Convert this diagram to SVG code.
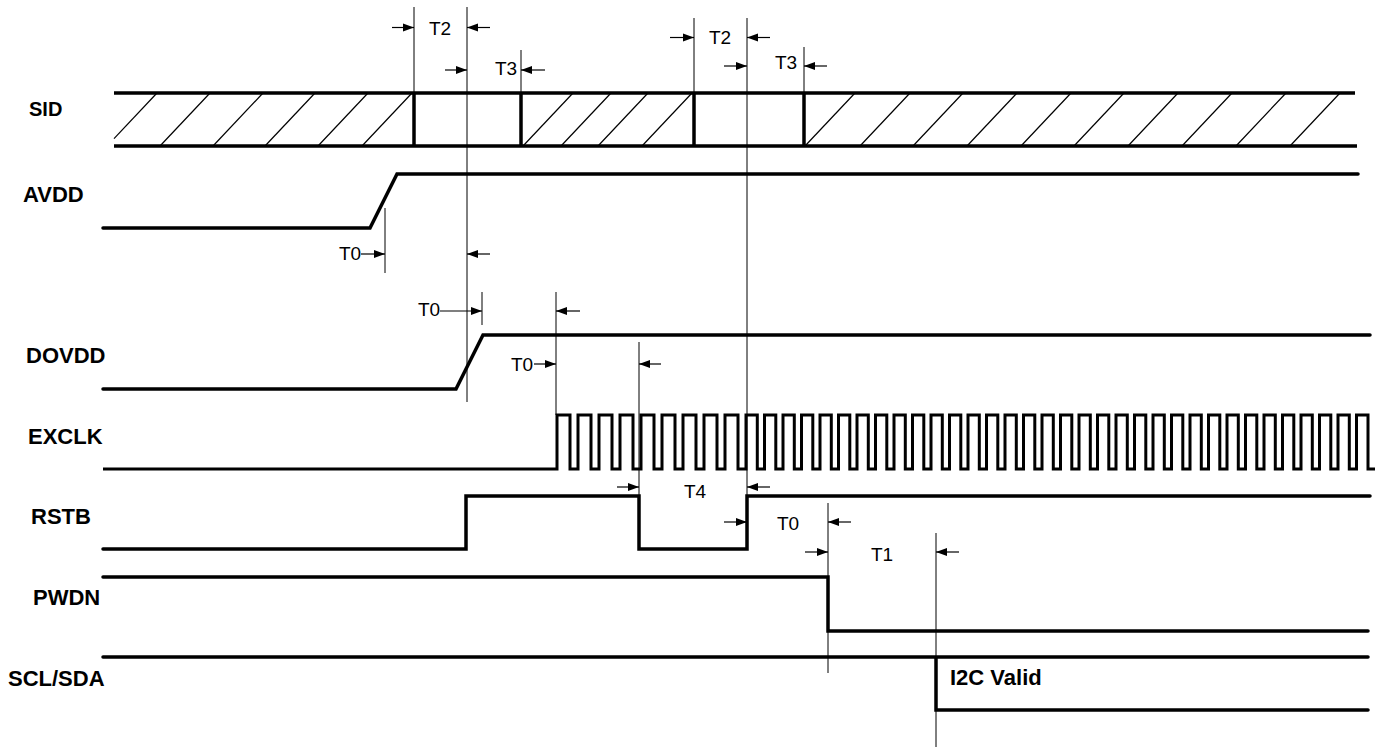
<svg xmlns="http://www.w3.org/2000/svg" width="1385" height="747" viewBox="0 0 1385 747">
<style>
.sig{fill:none;stroke:#000;stroke-width:3.5;stroke-linejoin:miter;stroke-linecap:round}
.clk{fill:none;stroke:#000;stroke-width:3;stroke-linejoin:miter}
.edge{stroke:#000;stroke-width:3.5}
.hatch{stroke:#000;stroke-width:1.2}
.guide{stroke:#000;stroke-width:1}
.arr{stroke:#000;stroke-width:1.2;marker-end:url(#ah)}
.lbl{font-family:"Liberation Sans",Arial,sans-serif;font-weight:bold;font-size:22px;fill:#000}
.t{font-family:"Liberation Sans",Arial,sans-serif;font-size:19px;fill:#000;text-anchor:middle}
</style>
<defs>
<marker id="ah" markerUnits="userSpaceOnUse" markerWidth="12" markerHeight="10" refX="11" refY="5" orient="auto">
<path d="M0,1 L11,5 L0,9 z" fill="#000"/>
</marker>
</defs>
<rect width="1385" height="747" fill="#fff"/>

<g id="labels">
<text class="lbl" x="29" y="116" style="font-size:20px">SID</text>
<text class="lbl" x="23" y="202">AVDD</text>
<text class="lbl" x="26" y="363">DOVDD</text>
<text class="lbl" x="28" y="444">EXCLK</text>
<text class="lbl" x="31" y="524">RSTB</text>
<text class="lbl" x="33" y="605">PWDN</text>
<text class="lbl" x="8" y="686">SCL/SDA</text>
</g>

<g id="sid">
<g class="hatch">
<line x1="114" y1="138.6" x2="157" y2="93"/>
<line x1="160" y1="146" x2="210" y2="93"/>
<line x1="213" y1="146" x2="263" y2="93"/>
<line x1="265" y1="146" x2="315" y2="93"/>
<line x1="318" y1="146" x2="368" y2="93"/>
<line x1="362" y1="146" x2="412" y2="93"/>
<line x1="523" y1="146" x2="573" y2="93"/>
<line x1="561" y1="146" x2="611" y2="93"/>
<line x1="598" y1="146" x2="648" y2="93"/>
<line x1="642" y1="146" x2="692" y2="93"/>
<line x1="805" y1="146" x2="855" y2="93"/>
<line x1="860" y1="146" x2="910" y2="93"/>
<line x1="913" y1="146" x2="963" y2="93"/>
<line x1="967" y1="146" x2="1017" y2="93"/>
<line x1="1021" y1="146" x2="1071" y2="93"/>
<line x1="1074" y1="146" x2="1124" y2="93"/>
<line x1="1128" y1="146" x2="1178" y2="93"/>
<line x1="1182" y1="146" x2="1232" y2="93"/>
<line x1="1236" y1="146" x2="1286" y2="93"/>
<line x1="1290" y1="146" x2="1340" y2="93"/>
</g>
<path class="sig" d="M114 93 H1355 M114 146 H1357" style="stroke-linecap:butt"/>
<g class="edge">
<line x1="414" y1="93" x2="414" y2="146"/>
<line x1="521" y1="93" x2="521" y2="146"/>
<line x1="694" y1="93" x2="694" y2="146"/>
<line x1="804" y1="93" x2="804" y2="146"/>
</g>
</g>

<g id="avdd"><path class="sig" d="M103 228 H370 L397 174 H1358"/></g>
<g id="dovdd"><path class="sig" d="M103 389 H456 L483 335 H1370"/></g>
<g id="exclk"><path class="clk" d="M103 469 H557 V415
h13 v54 h8 v-54 h13 v54 h8 v-54 h13 v54 h8 v-54 h13 v54 h8 v-54 h13 v54 h8 v-54
h13 v54 h8 v-54 h13 v54 h8 v-54 h13 v54 h8 v-54 h13 v54 h8 v-54
h11.3 v54 h7.2 v-54 h11.3 v54 h7.2 v-54 h11.3 v54 h7.2 v-54 h11.3 v54 h7.2 v-54 h11.3 v54 h7.2 v-54
h11.3 v54 h7.2 v-54 h11.3 v54 h7.2 v-54 h11.3 v54 h7.2 v-54 h11.3 v54 h7.2 v-54 h11.3 v54 h7.2 v-54
h11.3 v54 h7.2 v-54 h11.3 v54 h7.2 v-54 h11.3 v54 h7.2 v-54 h11.3 v54 h7.2 v-54 h11.3 v54 h7.2 v-54
h11.3 v54 h7.2 v-54 h11.3 v54 h7.2 v-54 h11.3 v54 h7.2 v-54 h11.3 v54 h7.2 v-54 h11.3 v54 h7.2 v-54
h11.3 v54 h7.2 v-54 h11.3 v54 h7.2 v-54 h11.3 v54 h7.2 v-54 h11.3 v54 h7.2 v-54 h11.3 v54 h7.2 v-54
h11.3 v54 h7.2 v-54 h11.3 v54 h7.2 v-54 h11.3 v54 h7.2 v-54 h11.3 v54 h7.2 v-54 h11.3 v54 h7.2 v-54
h11.3 v54 h7.2 v-54 h11.3 v54 h7.2 v-54 h11.3 v54 h7.2 v-54
h11.5 v54 h7"/></g>
<g id="rstb"><path class="sig" d="M103 549 H466 V496 H639 V549 H747 V496 H1370"/></g>
<g id="pwdn"><path class="sig" d="M103 577 H828 V631 H1368"/></g>
<g id="scl_sda">
<path class="sig" d="M103 657 H1368 M936 657 V710 H1368"/>
<text class="lbl" x="950" y="685">I2C Valid</text>
</g>

<g id="connectors">
<g class="guide">
<line x1="414" y1="7" x2="414" y2="93"/>
<line x1="467" y1="7" x2="467" y2="402"/>
<line x1="521" y1="50" x2="521" y2="93"/>
<line x1="694" y1="18" x2="694" y2="93"/>
<line x1="747" y1="18" x2="747" y2="496"/>
<line x1="804" y1="47" x2="804" y2="93"/>
<line x1="385" y1="208" x2="385" y2="273"/>
<line x1="482" y1="292" x2="482" y2="325"/>
<line x1="556" y1="292" x2="556" y2="415"/>
<line x1="639" y1="342" x2="639" y2="496"/>
<line x1="828" y1="503" x2="828" y2="673"/>
<line x1="936" y1="533" x2="936" y2="747"/>
</g>
<g>
<line class="arr" x1="392" y1="27.5" x2="414" y2="27.5"/>
<line class="arr" x1="490" y1="27.5" x2="467" y2="27.5"/>
<line class="arr" x1="445" y1="70" x2="467" y2="70"/>
<line class="arr" x1="545" y1="70" x2="521" y2="70"/>
<line class="arr" x1="670" y1="37.5" x2="694" y2="37.5"/>
<line class="arr" x1="770" y1="37.5" x2="747" y2="37.5"/>
<line class="arr" x1="724" y1="66" x2="747" y2="66"/>
<line class="arr" x1="827" y1="66" x2="804" y2="66"/>
<line class="arr" x1="361" y1="254" x2="385" y2="254"/>
<line class="arr" x1="490" y1="254" x2="467" y2="254"/>
<line class="arr" x1="440" y1="311" x2="482" y2="311"/>
<line class="arr" x1="580" y1="311" x2="556" y2="311"/>
<line class="arr" x1="534" y1="364" x2="556" y2="364"/>
<line class="arr" x1="661" y1="364" x2="639" y2="364"/>
<line class="arr" x1="617" y1="487" x2="639" y2="487"/>
<line class="arr" x1="770" y1="487" x2="747" y2="487"/>
<line class="arr" x1="724" y1="522" x2="747" y2="522"/>
<line class="arr" x1="851" y1="522" x2="828" y2="522"/>
<line class="arr" x1="805" y1="552" x2="828" y2="552"/>
<line class="arr" x1="959" y1="552" x2="936" y2="552"/>
</g>
</g>

<g id="time_labels">
<text class="t" x="440" y="35">T2</text>
<text class="t" x="506" y="75">T3</text>
<text class="t" x="720" y="44">T2</text>
<text class="t" x="786" y="69">T3</text>
<text class="t" x="350" y="260">T0</text>
<text class="t" x="429" y="316">T0</text>
<text class="t" x="522" y="371">T0</text>
<text class="t" x="695" y="498">T4</text>
<text class="t" x="788" y="530">T0</text>
<text class="t" x="882" y="561">T1</text>
</g>
</svg>
